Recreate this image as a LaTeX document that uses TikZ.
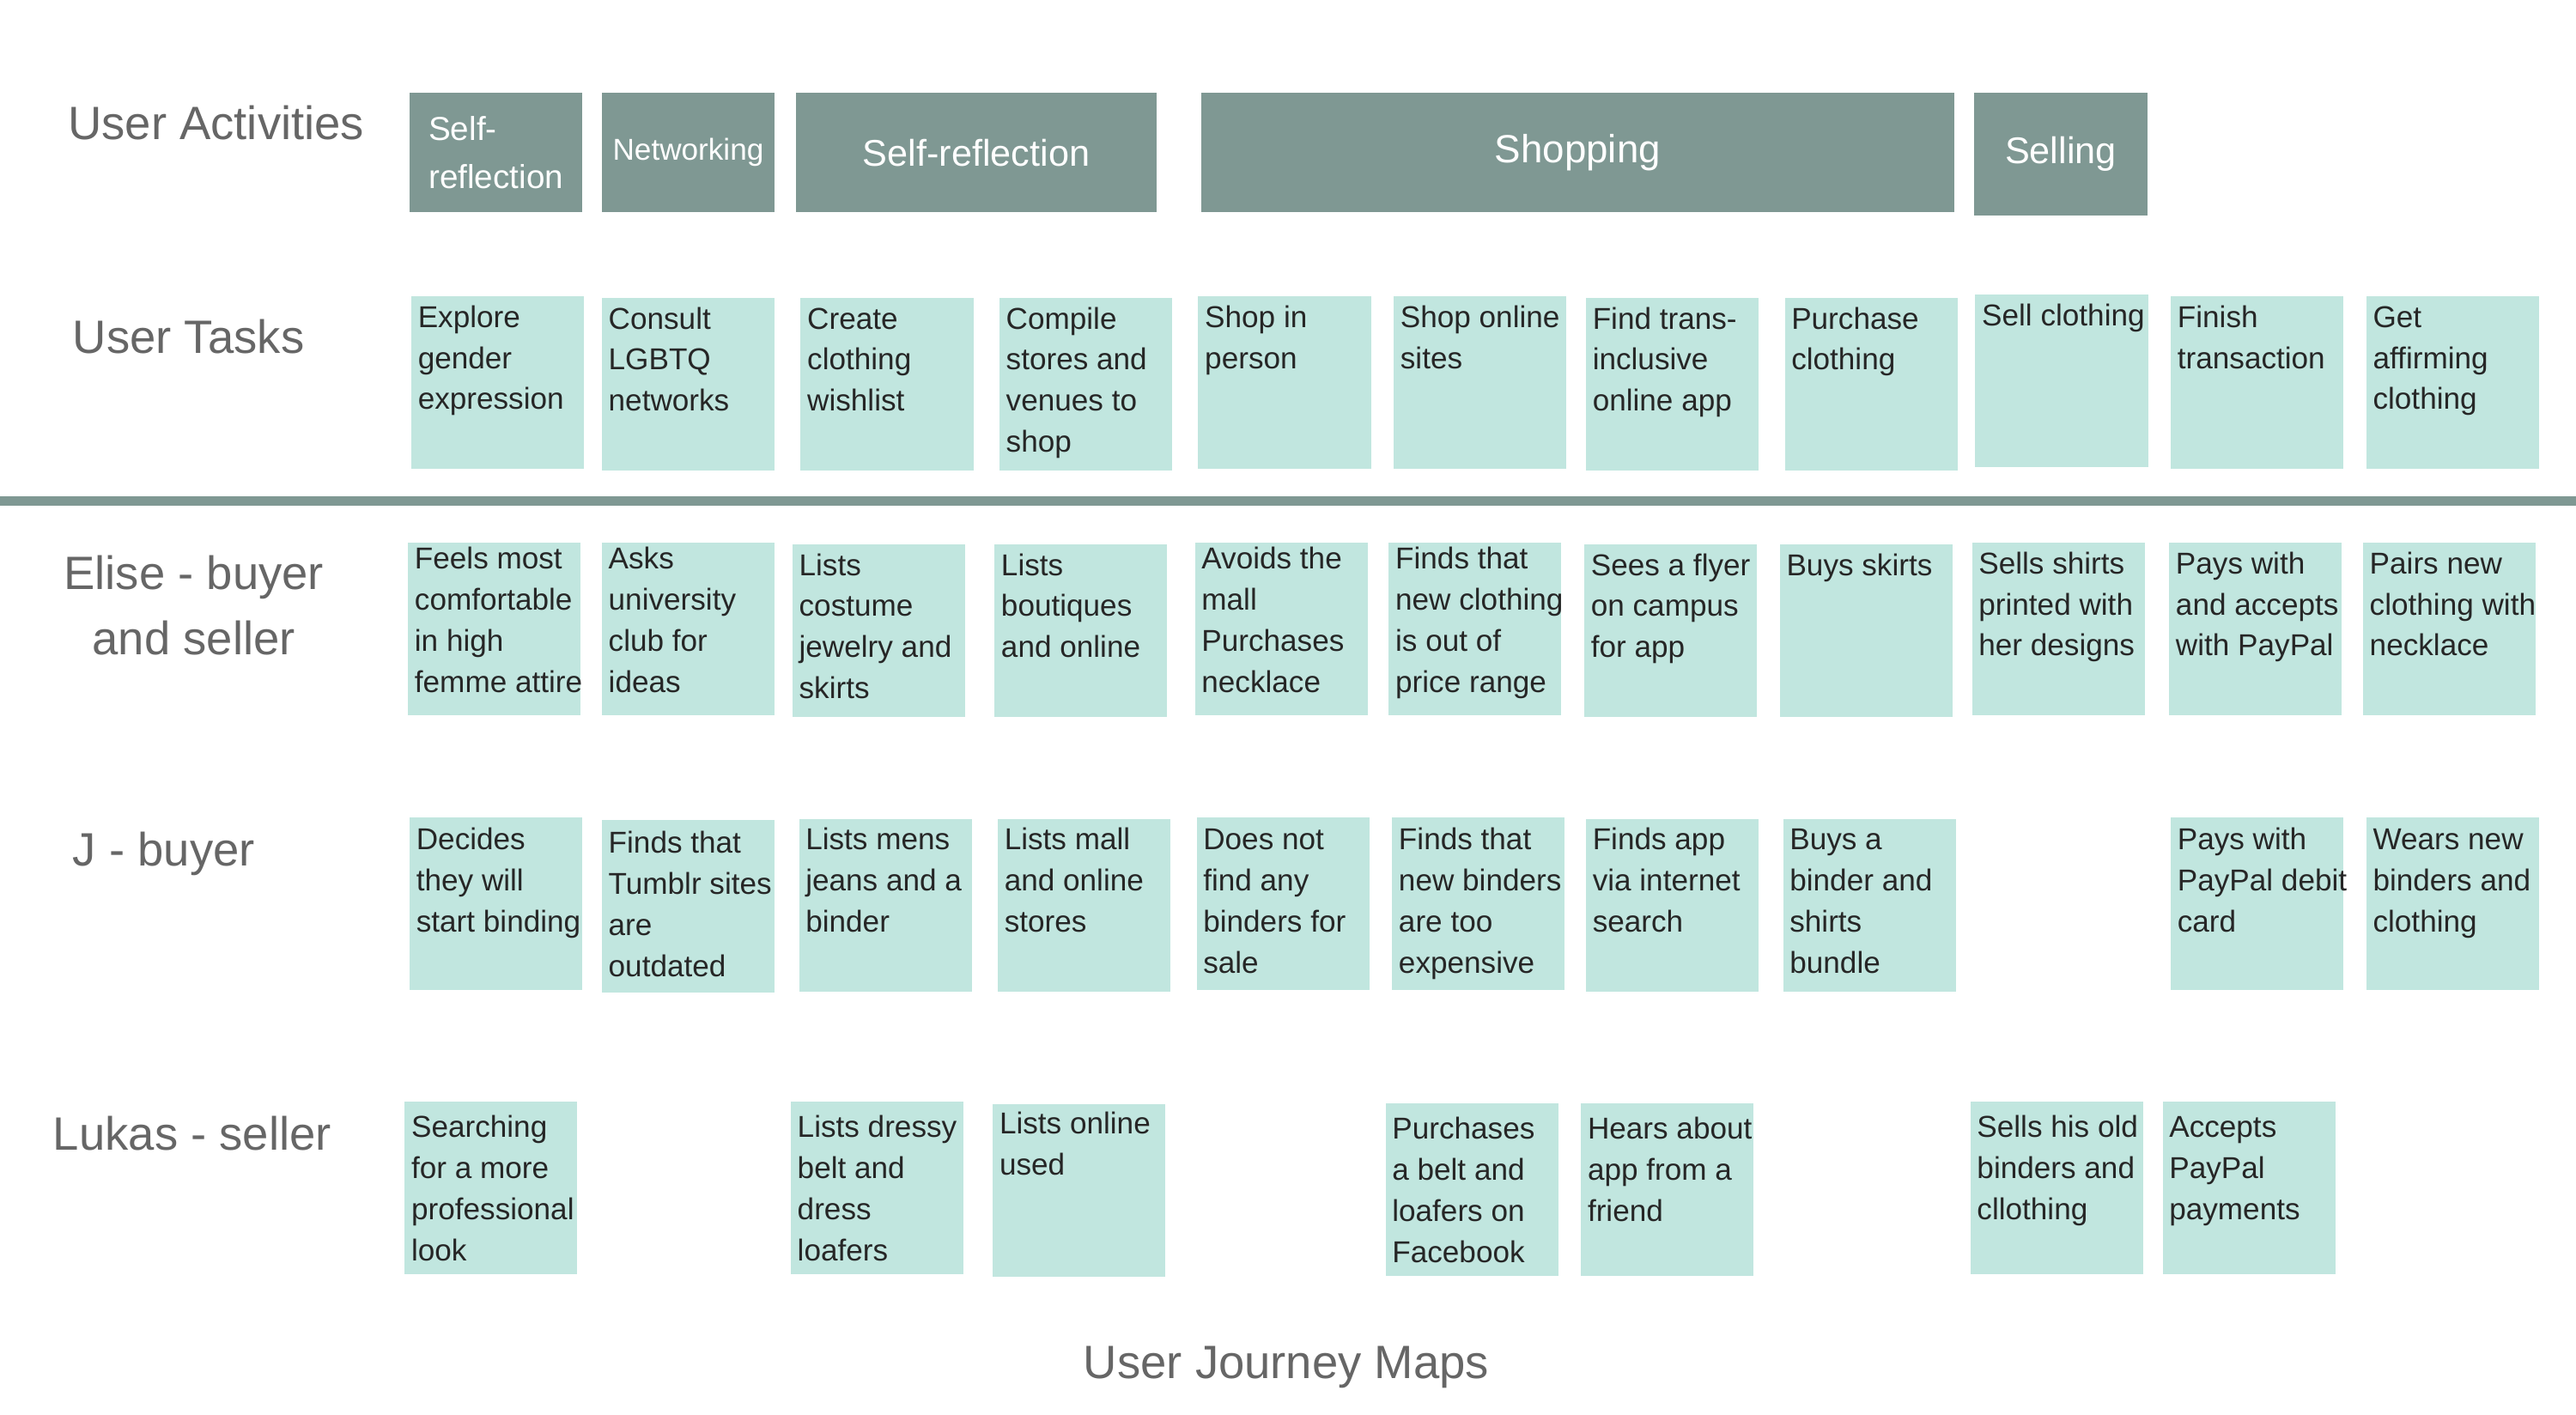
\documentclass[tikz,border=0pt]{standalone}
\usepackage{fontspec}
\setmainfont{Liberation Sans}
\usetikzlibrary{positioning}
\definecolor{actfill}{HTML}{7F9893}
\definecolor{taskfill}{HTML}{C1E6DF}
\definecolor{boxtext}{HTML}{262626}
\definecolor{headtext}{HTML}{666666}
\newcommand{\cell}[2][10.3pt]{\parbox[t][57.2pt][t]{57.2pt}{\raggedright\rightskip=-30pt plus 1fil\leftskip=2.2pt\rule{0pt}{#1}#2}}

\begin{document}
\begin{tikzpicture}[x=0.19133mm, y=-0.19133mm]
\tikzset{task/.style={anchor=north west, fill=taskfill, text=boxtext, inner sep=0pt, font=\fontsize{10}{13.6}\selectfont},
  act/.style={anchor=north west, fill=actfill, text=white, inner sep=0pt, minimum height=39.7pt, minimum width=57.2pt, font=\fontsize{12.3}{15.8}\selectfont},
  head/.style={text=headtext, inner sep=0pt, font=\fontsize{15.5}{21.8}\selectfont}}
\useasboundingbox (0,0) rectangle (1568,861);
% row titles
\node[head, anchor=base west] (hact) at (41,85) {User Activities};
\node[head, anchor=base west] (htask) at (44,215) {User Tasks};
\node[head, align=center] (helise) at (118,368.5) {Elise - buyer\\and seller};
\node[head, anchor=base west] (hj) at (44,527) {J - buyer};
\node[head, anchor=base west] (hlukas) at (32,700) {Lukas - seller};
\node[head, anchor=base] (title) at (783,839) {User Journey Maps};
% activities
\node[act, align=left, font=\fontsize{11}{15.8}\selectfont] (a1) at (249,56) {Self-\\reflection};
\node[act, font=\fontsize{10}{12}\selectfont] (a2) at (366,56) {Networking};
\node[act, minimum width=119.7pt] (a3) at (484,56) {Self-reflection};
\node[act, minimum width=249.3pt, font=\fontsize{13}{15.8}\selectfont] (a4) at (731,56) {Shopping};
\node[act, minimum width=57.7pt, minimum height=40.8pt] (a5) at (1201,56) {Selling};
% separator
\coordinate (sepL) at (0,305);
\coordinate (sepR) at (1568,305);
\draw[actfill, line width=3.1pt] (sepL) -- (sepR);
% user tasks
\node[task] (t1) at (250,180) {\cell{Explore\\gender\\expression}};
\node[task] (t2) at (366,181) {\cell{Consult\\LGBTQ\\networks}};
\node[task] (t3) at (487,181) {\cell{Create\\clothing\\wishlist}};
\node[task] (t4) at (608,181) {\cell{Compile\\stores and\\venues to\\shop}};
\node[task] (t5) at (729,180) {\cell{Shop in\\person}};
\node[task] (t6) at (848,180) {\cell{Shop online\\sites}};
\node[task] (t7) at (965,181) {\cell{Find trans-\\inclusive\\online app}};
\node[task] (t8) at (1086,181) {\cell{Purchase\\clothing}};
\node[task] (t9) at (1202,179) {\cell{Sell clothing}};
\node[task] (t10) at (1321,180) {\cell{Finish\\transaction}};
\node[task] (t11) at (1440,180) {\cell{Get\\affirming\\clothing}};
% Elise
\node[task] (e1) at (248,330) {\cell[8.7pt]{Feels most\\comfortable\\in high\\femme attire}};
\node[task] (e2) at (366,330) {\cell[8.7pt]{Asks\\university\\club for\\ideas}};
\node[task] (e3) at (482,331) {\cell{Lists\\costume\\jewelry and\\skirts}};
\node[task] (e4) at (605,331) {\cell{Lists\\boutiques\\and online}};
\node[task] (e5) at (727,330) {\cell[8.7pt]{Avoids the\\mall\\Purchases\\necklace}};
\node[task] (e6) at (845,330) {\cell[8.7pt]{Finds that\\new clothing\\is out of\\price range}};
\node[task] (e7) at (964,331) {\cell{Sees a flyer\\on campus\\for app}};
\node[task] (e8) at (1083,331) {\cell{Buys skirts}};
\node[task] (e9) at (1200,330) {\cell{Sells shirts\\printed with\\her designs}};
\node[task] (e10) at (1320,330) {\cell{Pays with\\and accepts\\with PayPal}};
\node[task] (e11) at (1438,330) {\cell{Pairs new\\clothing with\\necklace}};
% J
\node[task] (j1) at (249,497) {\cell[10.9pt]{Decides\\they will\\start binding}};
\node[task] (j2) at (366,499) {\cell[10.9pt]{Finds that\\Tumblr sites\\are\\outdated}};
\node[task] (j3) at (486,498) {\cell{Lists mens\\jeans and a\\binder}};
\node[task] (j4) at (607,498) {\cell{Lists mall\\and online\\stores}};
\node[task] (j5) at (728,497) {\cell[10.9pt]{Does not\\find any\\binders for\\sale}};
\node[task] (j6) at (847,497) {\cell[10.9pt]{Finds that\\new binders\\are too\\expensive}};
\node[task] (j7) at (965,498) {\cell{Finds app\\via internet\\search}};
\node[task] (j8) at (1085,498) {\cell{Buys a\\binder and\\shirts\\bundle}};
\node[task] (j10) at (1321,497) {\cell[10.9pt]{Pays with\\PayPal debit\\card}};
\node[task] (j11) at (1440,497) {\cell[10.9pt]{Wears new\\binders and\\clothing}};
% Lukas
\node[task] (l1) at (246,670) {\cell[12pt]{Searching\\for a more\\professional\\look}};
\node[task] (l3) at (481,670) {\cell[12pt]{Lists dressy\\belt and\\dress\\loafers}};
\node[task] (l4) at (604,672) {\cell[9.8pt]{Lists online\\used}};
\node[task] (l6) at (843,671) {\cell[12pt]{Purchases\\a belt and\\loafers on\\Facebook}};
\node[task] (l7) at (962,671) {\cell[12pt]{Hears about\\app from a\\friend}};
\node[task] (l9) at (1199,670) {\cell[12pt]{Sells his old\\binders and\\cllothing}};
\node[task] (l10) at (1316,670) {\cell[12pt]{Accepts\\PayPal\\payments}};
\end{tikzpicture}
\end{document}
